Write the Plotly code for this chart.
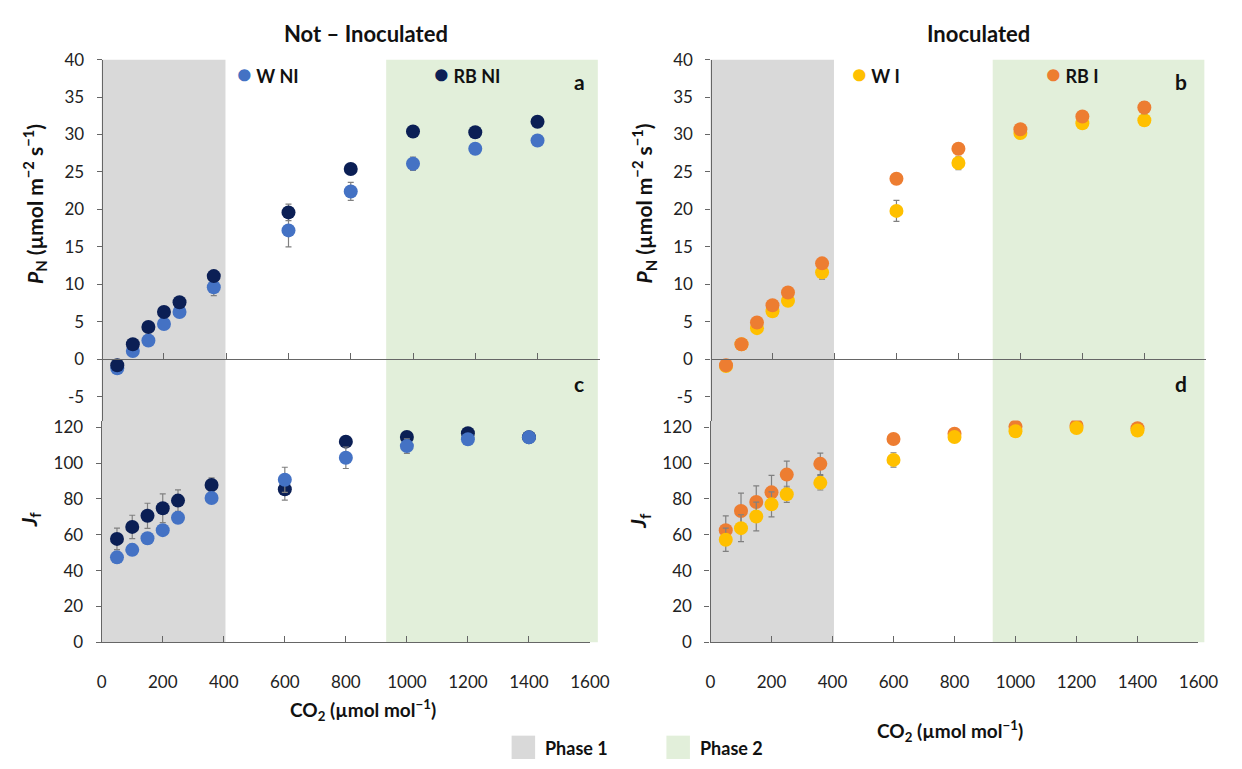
import plotly.graph_objects as go

W, H = 1242, 769

# ---------------- data ----------------
co2 = [50, 100, 150, 200, 250, 360, 600, 800, 1000, 1200, 1400]

series_names = ["W NI", "RB NI", "W I", "RB I"]
series_colors = ["#4472C4", "#0B1F55", "#FFC000", "#ED7D31"]

pn_w_ni = [-1.2, 1.1, 2.5, 4.7, 6.3, 9.6, 17.2, 22.4, 26.1, 28.1, 29.2]
pn_w_ni_err = [0.3, 0.3, 0.3, 0.3, 0.3, 1.1, 2.2, 1.2, 0.9, 0.4, 0.4]
pn_rb_ni = [-0.8, 2.0, 4.3, 6.3, 7.6, 11.1, 19.6, 25.4, 30.4, 30.3, 31.7]
pn_rb_ni_err = [0.3, 0.3, 0.3, 0.3, 0.3, 0.4, 1.1, 0.4, 0.3, 0.3, 0.4]

jf_w_ni = [47.4, 51.6, 58.1, 62.6, 69.5, 80.5, 90.7, 103.0, 109.5, 113.3, 114.4]
jf_w_ni_err = [3, 3, 3, 3, 3, 2, 7, 6, 4, 2, 2]
jf_rb_ni = [57.7, 64.4, 70.6, 74.8, 79.1, 87.8, 85.4, 112.0, 114.6, 116.7, 114.5]
jf_rb_ni_err = [6, 6.5, 7, 8, 6, 4, 6, 2, 2, 2, 2]

pn_w_i = [-0.9, 2.0, 4.15, 6.4, 7.8, 11.6, 19.8, 26.2, 30.2, 31.5, 31.9]
pn_w_i_err = [0.3, 0.3, 0.3, 0.3, 0.3, 0.9, 1.4, 0.9, 0.4, 0.6, 0.4]
pn_rb_i = [-0.8, 2.0, 4.9, 7.2, 8.9, 12.8, 24.1, 28.1, 30.7, 32.4, 33.6]
pn_rb_i_err = [0.3, 0.3, 0.3, 0.3, 0.3, 0.3, 0.4, 0.4, 0.4, 0.4, 0.8]

jf_w_i = [57.2, 63.7, 70.2, 77.0, 82.6, 89.0, 101.8, 114.6, 117.8, 119.6, 118.2]
jf_w_i_err = [6.5, 7.5, 8, 7, 4.5, 4, 4, 3, 2, 2, 2]
jf_rb_i = [62.6, 73.3, 78.3, 83.7, 93.6, 99.6, 113.5, 116.4, 120.4, 120.9, 119.5]
jf_rb_i_err = [8, 10, 9, 9.5, 7.5, 6, 2, 2, 2, 2, 2]

x_ticks = [0, 200, 400, 600, 800, 1000, 1200, 1400, 1600]
pn_ticks = [-5, 0, 5, 10, 15, 20, 25, 30, 35, 40]
pn_tick_labels = ["-5", "0", "5", "10", "15", "20", "25", "30", "35", "40"]
jf_ticks = [0, 20, 40, 60, 80, 100, 120]

phase_names = ["Phase 1", "Phase 2"]
phase_colors = ["#D9D9D9", "#E2EFDA"]

# ---------------- helpers ----------------
def px(x):
    return x / W

def py(y):
    return 1 - y / H

FONT = "Lato"
AXC = "#666666"
TXT = "#222222"
ERRC = "#808080"
MS = 14

fig = go.Figure()

def add_series(xa, ya, yvals, err, color, name):
    fig.add_trace(go.Scatter(
        x=co2, y=yvals, mode="markers", name=name, showlegend=False,
        xaxis=xa, yaxis=ya,
        marker=dict(size=MS, color=color),
        error_y=dict(type="data", array=err, color=ERRC, thickness=1.2, width=3),
    ))

# panel a (top-left), panel c (bottom-left)
add_series("x", "y", pn_w_ni, pn_w_ni_err, series_colors[0], series_names[0])
add_series("x", "y", pn_rb_ni, pn_rb_ni_err, series_colors[1], series_names[1])
add_series("x3", "y3", jf_rb_ni, jf_rb_ni_err, series_colors[1], series_names[1])
add_series("x3", "y3", jf_w_ni, jf_w_ni_err, series_colors[0], series_names[0])
# panel b (top-right), panel d (bottom-right)
add_series("x2", "y2", pn_w_i, pn_w_i_err, series_colors[2], series_names[2])
add_series("x2", "y2", pn_rb_i, pn_rb_i_err, series_colors[3], series_names[3])
add_series("x4", "y4", jf_rb_i, jf_rb_i_err, series_colors[3], series_names[3])
add_series("x4", "y4", jf_w_i, jf_w_i_err, series_colors[2], series_names[2])

# geometry (pixels)
top40, zero_top, split, zero_bot = 50, 358, 421, 649
pn_per = (zero_top - top40) / 40.0
pn_min = -(split - zero_top) / pn_per
jf_per = (zero_bot - 428) / 120.0
jf_max = (zero_bot - split) / jf_per

L_left, L_top_right, L_bot_right = 98.7, 607, 597
R_left, R_top_right, R_bot_right = 720, 1226, 1218

tickfont = dict(family=FONT, size=17, color=TXT)

def top_x(left, right):
    return dict(domain=[px(left), px(right)], range=[0, 1600], anchor="free",
                position=py(zero_top), showline=True, linecolor=AXC, linewidth=1.3,
                ticks="inside", ticklen=6, tickcolor=AXC, tickvals=x_ticks[1:],
                showticklabels=False, showgrid=False, zeroline=False)

def bot_x(left, right, anchor):
    return dict(domain=[px(left), px(right)], range=[0, 1600], anchor=anchor,
                showline=True, linecolor=AXC, linewidth=1.3,
                ticks="inside", ticklen=6, tickcolor=AXC, tickvals=x_ticks,
                ticktext=[str(v) for v in x_ticks], ticklabelstandoff=24,
                tickfont=tickfont, showgrid=False, zeroline=False)

def top_y(left):
    return dict(domain=[py(split), py(top40)], range=[pn_min, 40], anchor="free",
                position=px(left), showline=True, linecolor=AXC, linewidth=1.3,
                ticks="outside", ticklen=5, tickcolor=AXC, tickvals=pn_ticks,
                ticktext=pn_tick_labels,
                ticklabelstandoff=9, tickfont=tickfont, showgrid=False, zeroline=False)

def bot_y(anchor):
    return dict(domain=[py(zero_bot), py(split)], range=[0, jf_max], anchor=anchor,
                showline=True, linecolor=AXC, linewidth=1.3,
                ticks="outside", ticklen=5, tickcolor=AXC, tickvals=jf_ticks,
                ticklabelstandoff=9, tickfont=tickfont, showgrid=False, zeroline=False)

fig.update_layout(
    width=W, height=H, margin=dict(l=0, r=0, t=0, b=0),
    paper_bgcolor="white", plot_bgcolor="rgba(0,0,0,0)",
    xaxis=top_x(L_left, L_top_right), yaxis=top_y(L_left),
    xaxis2=top_x(R_left, R_top_right), yaxis2=top_y(R_left),
    xaxis3=bot_x(L_left, L_bot_right, "y3"), yaxis3=bot_y("x3"),
    xaxis4=bot_x(R_left, R_bot_right, "y4"), yaxis4=bot_y("x4"),
    showlegend=False,
)

# shaded phases (paper coords)
shapes = []
for (x0, x1, c) in [(L_left, 225, phase_colors[0]), (389, 605, phase_colors[1]),
                    (R_left, 846, phase_colors[0]), (1008, 1224, phase_colors[1])]:
    shapes.append(dict(type="rect", xref="paper", yref="paper", x0=px(x0), x1=px(x1),
                       y0=py(zero_bot), y1=py(top40), fillcolor=c, line=dict(width=0),
                       layer="below"))
# phase legend squares
shapes.append(dict(type="rect", xref="paper", yref="paper", x0=px(517), x1=px(541),
                   y0=py(769), y1=py(745), fillcolor=phase_colors[0], line=dict(width=0)))
shapes.append(dict(type="rect", xref="paper", yref="paper", x0=px(675), x1=px(699),
                   y0=py(769), y1=py(745), fillcolor=phase_colors[1], line=dict(width=0)))
fig.update_layout(shapes=shapes)

ann = []
def text(x, y, s, size=17, bold=True, xanchor="center", angle=0):
    ann.append(dict(xref="paper", yref="paper", x=px(x), y=py(y), text=(f"<b>{s}</b>" if bold else s),
                    showarrow=False, xanchor=xanchor, yanchor="middle", textangle=angle,
                    font=dict(family=FONT, size=size, color="#111111")))

text(368, 23, "Not – Inoculated", size=22)
text(993, 23, "Inoculated", size=22)

# in-panel series labels
def series_label(x, y, idx):
    ann.append(dict(xref="paper", yref="paper", x=px(x), y=py(y),
                    text=(f"<span style='color:{series_colors[idx]};font-size:25px'>●</span>"
                          f"<b> {series_names[idx]}</b>"),
                    showarrow=False, xanchor="left", yanchor="middle",
                    font=dict(family=FONT, size=18, color="#111111")))

series_label(235, 64, 0)
series_label(436, 64, 1)
series_label(862, 64, 2)
series_label(1060, 64, 3)

text(586, 72, "a", size=21)
text(1200, 72, "b", size=21)
text(586, 383, "c", size=21)
text(1200, 383, "d", size=21)

ytitle = "<i>P</i><sub>N</sub> (µmol m<sup>−2</sup> s<sup>−1</sup>)"
text(30, 198, ytitle, size=21, angle=-90)
text(652, 198, ytitle, size=21, angle=-90)
text(25, 522, "<i>J</i><sub>f</sub>", size=21, angle=-90)
text(647, 524, "<i>J</i><sub>f</sub>", size=21, angle=-90)

xtitle = "CO<sub>2</sub> (µmol mol<sup>−1</sup>)"
text(365, 719, xtitle, size=19)
text(964, 740, xtitle, size=19)

text(549, 758, phase_names[0], size=18, xanchor="left")
text(707, 758, phase_names[1], size=18, xanchor="left")

fig.update_layout(annotations=ann)

fig.write_html("out.html")
